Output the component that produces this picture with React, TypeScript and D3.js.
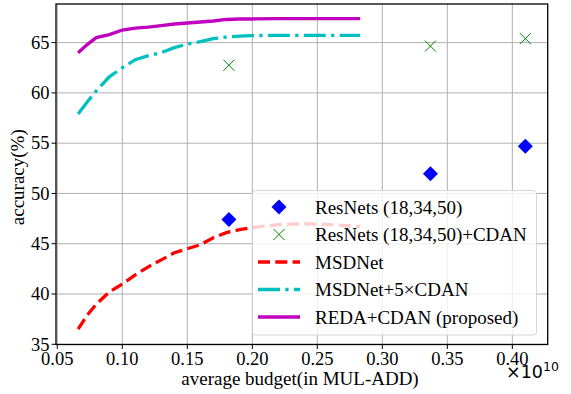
import React from "react";
import * as d3 from "d3";

const resnetX = [0.182, 0.337, 0.41];
const resnetY = [47.4, 51.95, 54.7];
const cdanY = [62.75, 64.65, 65.4];

const curveX = [0.066, 0.073, 0.08, 0.09, 0.1, 0.11, 0.12, 0.13, 0.14, 0.15, 0.16, 0.17, 0.18, 0.19, 0.2, 0.22, 0.24, 0.26, 0.283];
const msdnetY = [36.5, 37.9, 39.0, 40.2, 41.0, 41.9, 42.7, 43.4, 44.1, 44.5, 44.9, 45.6, 46.1, 46.4, 46.6, 46.9, 47.0, 46.9, 46.7];
const msdCdanY = [57.9, 59.1, 60.2, 61.6, 62.5, 63.3, 63.7, 64.0, 64.5, 64.85, 65.1, 65.4, 65.55, 65.65, 65.7, 65.72, 65.72, 65.72, 65.72];
const redaY = [64.0, 64.8, 65.5, 65.8, 66.25, 66.45, 66.55, 66.7, 66.85, 66.95, 67.05, 67.15, 67.3, 67.35, 67.35, 67.38, 67.38, 67.38, 67.38];

const xTicks = [0.05, 0.1, 0.15, 0.2, 0.25, 0.3, 0.35, 0.4];
const yTicks = [35, 40, 45, 50, 55, 60, 65];
const legendLabels = [
  "ResNets (18,34,50)",
  "ResNets (18,34,50)+CDAN",
  "MSDNet",
  "MSDNet+5×CDAN",
  "REDA+CDAN (proposed)",
];

const L = 56, R = 547.7, T = 4, B = 344.5;
const serif = "'Liberation Serif', 'Times New Roman', serif";

export default function App() {
  const x = d3.scaleLinear().domain([0.049, 0.4272]).range([L, R]);
  const y = d3.scaleLinear().domain([34.98, 68.84]).range([B, T]);
  const line = (ys: number[]) =>
    d3.line<number>().x((_, i) => x(curveX[i])).y((v) => y(v)).curve(d3.curveLinear)(ys) || "";

  const diamond = (cx: number, cy: number, s = 7.5) =>
    `M${cx},${cy - s}L${cx + s},${cy}L${cx},${cy + s}L${cx - s},${cy}Z`;
  const cross = (cx: number, cy: number, s = 5.5) =>
    `M${cx - s},${cy - s}L${cx + s},${cy + s}M${cx - s},${cy + s}L${cx + s},${cy - s}`;

  const lw = 3.3;
  const rowY = [207, 234.5, 262, 289.5, 317];
  const hx0 = 258, hx1 = 300, hxm = 279;

  return (
    <svg width={571} height={394} style={{ display: "block", position: "absolute", left: 0, top: 0 }}>
      <rect x={0} y={0} width={571} height={394} fill="#fff" />
      {xTicks.map((t) => (
        <line key={"gx" + t} x1={x(t)} x2={x(t)} y1={T} y2={B} stroke="#b0b0b0" strokeWidth={1} />
      ))}
      {yTicks.map((t) => (
        <line key={"gy" + t} x1={L} x2={R} y1={y(t)} y2={y(t)} stroke="#b0b0b0" strokeWidth={1} />
      ))}
      <path d={line(msdnetY)} fill="none" stroke="#ff0000" strokeWidth={lw} strokeDasharray="12,5.3" />
      <path d={line(msdCdanY)} fill="none" stroke="#00bfbf" strokeWidth={lw} strokeDasharray="22,5.3,3.3,5.3" />
      <path d={line(redaY)} fill="none" stroke="#bf00bf" strokeWidth={lw} />
      {resnetX.map((v, i) => (
        <path key={"d" + i} d={diamond(x(v), y(resnetY[i]))} fill="#0000ff" />
      ))}
      {resnetX.map((v, i) => (
        <path key={"c" + i} d={cross(x(v), y(cdanY[i]))} fill="none" stroke="#008000" strokeWidth={1} />
      ))}
      <rect x={L} y={T} width={R - L} height={B - T} fill="none" stroke="#000" strokeWidth={1.3} />
      {xTicks.map((t) => (
        <g key={"tx" + t}>
          <line x1={x(t)} x2={x(t)} y1={B} y2={B + 4.5} stroke="#000" strokeWidth={1} />
          <text x={x(t)} y={B + 20} textAnchor="middle" fontFamily={serif} fontSize={18.5} fill="#000">
            {t.toFixed(2)}
          </text>
        </g>
      ))}
      {yTicks.map((t) => (
        <g key={"ty" + t}>
          <line x1={L - 4.5} x2={L} y1={y(t)} y2={y(t)} stroke="#000" strokeWidth={1} />
          <text x={L - 6.5} y={y(t) + 6.3} textAnchor="end" fontFamily={serif} fontSize={18.5} fill="#000">
            {t}
          </text>
        </g>
      ))}
      <text x={300} y={385} textAnchor="middle" fontFamily={serif} fontSize={19} fill="#000">
        average budget(in MUL-ADD)
      </text>
      <text
        transform={`translate(24,${(T + B) / 2 + 3}) rotate(-90)`}
        textAnchor="middle"
        fontFamily={serif}
        fontSize={19}
        fill="#000"
      >
        accuracy(%)
      </text>
      <text x={506} y={378} fontFamily="'DejaVu Sans', sans-serif" fontSize={17.5} fill="#000">
        ×10
        <tspan dy={-7} fontSize={12.5}>10</tspan>
      </text>
      <rect x={252.5} y={190.5} width={284} height={144.5} rx={3} fill="#fff" fillOpacity={0.8} stroke="#cccccc" strokeOpacity={0.8} strokeWidth={1} />
      <path d={diamond(hxm, rowY[0])} fill="#0000ff" />
      <path d={cross(hxm, rowY[1])} fill="none" stroke="#008000" strokeWidth={1} />
      <line x1={hx0} x2={hx1} y1={rowY[2]} y2={rowY[2]} stroke="#ff0000" strokeWidth={lw} strokeDasharray="12,5.3" />
      <line x1={hx0} x2={hx1} y1={rowY[3]} y2={rowY[3]} stroke="#00bfbf" strokeWidth={lw} strokeDasharray="22,5.3,3.3,5.3" />
      <line x1={hx0} x2={hx1} y1={rowY[4]} y2={rowY[4]} stroke="#bf00bf" strokeWidth={lw} />
      {legendLabels.map((s, i) => (
        <text key={s} x={315} y={rowY[i] + 6.5} fontFamily={serif} fontSize={19} fill="#000">
          {s}
        </text>
      ))}
    </svg>
  );
}
